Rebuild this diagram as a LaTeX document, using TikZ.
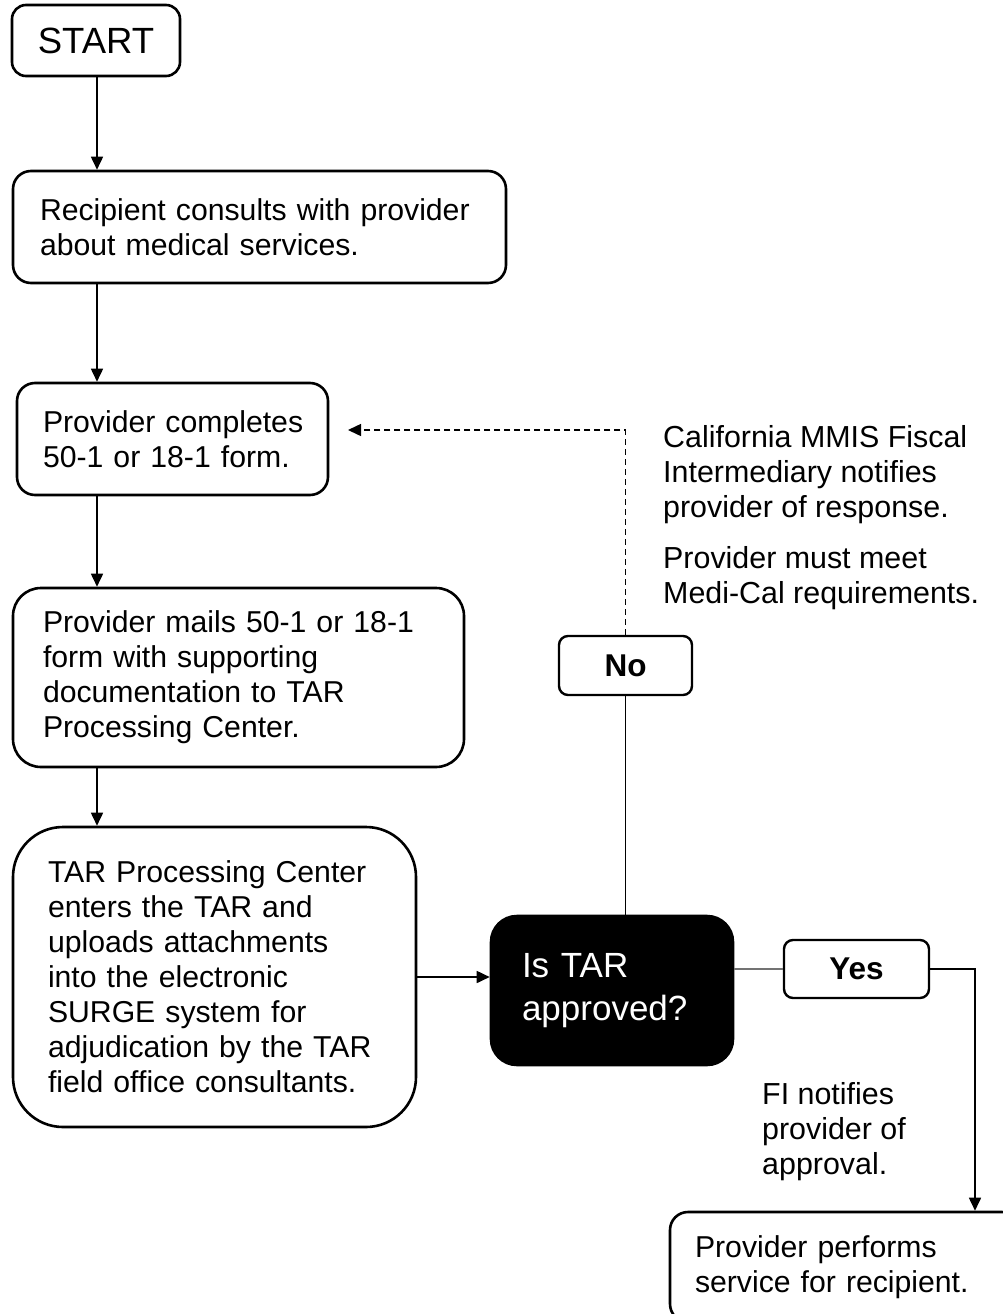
\documentclass[tikz,border=0pt]{standalone}
\usepackage{fontspec}
\setmainfont{Liberation Sans}
\usetikzlibrary{arrows.meta}
\begin{document}
\begin{tikzpicture}[x=1pt,y=-1pt,
  box/.style={draw, line width=2.6pt, rounded corners=14pt, align=left, inner ysep=0pt,
    font=\fontsize{30.2}{35}\selectfont},
  conn/.style={line width=1.7pt, -{Triangle[length=13pt,width=12pt]}},
  plain/.style={line width=1.7pt},
  lbl/.style={align=left, inner sep=0pt, font=\fontsize{30.4}{35}\selectfont},
  tag/.style={draw, line width=2.4pt, rounded corners=9pt, align=center,
    font=\bfseries\fontsize{31.5}{36}\selectfont}]
\useasboundingbox (0,0) rectangle (1002,1314);

\node[box, align=center, minimum width=168pt, minimum height=71pt,
  font=\fontsize{36.5}{40}\selectfont] (start) at (96,40.5) {START};
\node[box, text width=439pt, inner xsep=27pt, minimum height=112pt, rounded corners=18pt]
  (recip) at (259.5,227) {Recipient consults with provider\\about medical services.};
\node[box, text width=259pt, inner xsep=26pt, minimum height=112pt, rounded corners=18pt]
  (compl) at (172.5,439) {\mbox{Provider completes}\\50-1 or 18-1 form.};
\node[box, text width=391pt, inner xsep=30pt, minimum height=179pt, rounded corners=28pt]
  (mails) at (238.5,677.5) {Provider mails 50-1 or 18-1\\form with supporting\\documentation to TAR\\Processing Center.};
\node[box, text width=333pt, inner xsep=35pt, minimum height=300pt, rounded corners=50pt]
  (tar) at (214.5,977) {TAR Processing Center\\enters the TAR and\\uploads attachments\\into the electronic\\SURGE system for\\adjudication by the TAR\\field office consultants.};
\node[box, fill=black, text=white, text width=180pt, inner xsep=31pt, minimum height=149pt,
  rounded corners=26pt, font=\fontsize{35}{43}\selectfont]
  (dec) at (612,990.5) {Is TAR\\approved?};
\node[tag, minimum width=133pt, minimum height=59pt] (no) at (625.5,665.5) {No};
\node[tag, minimum width=145pt, minimum height=58pt] (yes) at (856.5,969) {Yes};
\node[box, text width=300pt, inner xsep=25pt, minimum height=110pt, rounded corners=18pt]
  (final) at (845,1267) {Provider performs\\service for recipient.};

\node[lbl, anchor=north west] (calif) at (663,425) {California MMIS Fiscal\\Intermediary notifies\\provider of response.};
\node[lbl, anchor=north west] (must) at (663,546) {Provider must meet\\Medi-Cal requirements.};
\node[lbl, anchor=north west] (fi) at (762,1082) {FI notifies\\provider of\\approval.};

\coordinate (fb) at (348,430);

\draw[conn] (start.south -| 97,0) -- (recip.north -| 97,0);
\draw[conn] (recip.south -| 97,0) -- (compl.north -| 97,0);
\draw[conn] (compl.south -| 97,0) -- (mails.north -| 97,0);
\draw[conn] (mails.south -| 97,0) -- (tar.north -| 97,0);
\draw[conn] (tar.east) -- (tar.east -| dec.west);
\draw[plain] (dec.north -| no.south) -- (no.south);
\draw[line width=1.5pt, dashed, dash pattern=on 6pt off 4pt, -{Triangle[length=13pt,width=12pt]}] (no.north) |- (fb);
\draw[plain, black!55] (yes.west -| dec.east) -- (yes.west);
\draw[conn] (yes.east) -| ([xshift=130pt]final.north);
\end{tikzpicture}
\end{document}
